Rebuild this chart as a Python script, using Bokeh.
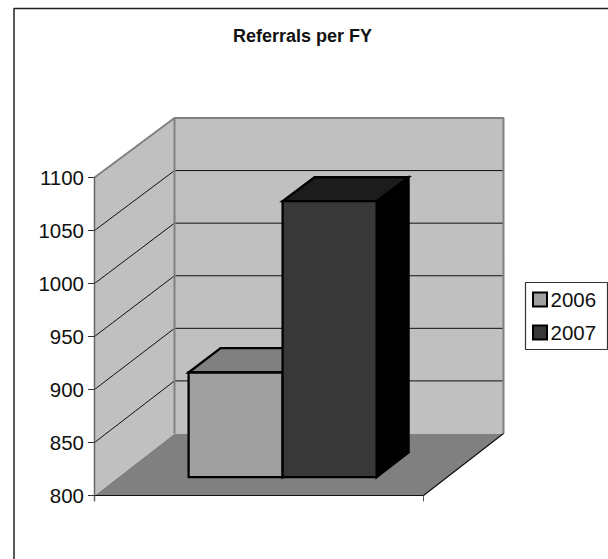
from bokeh.core.properties import value
from bokeh.embed import file_html
from bokeh.models import Range1d
from bokeh.plotting import figure
from bokeh.resources import INLINE

# Chart content
title_text = "Referrals per FY"
years = ["2006", "2007"]
referrals = [899, 1061]
tick_values = [800, 850, 900, 950, 1000, 1050, 1100]

front_colors = ["#a0a0a0", "#383838"]
top_colors = ["#808080", "#1c1c1c"]
side_colors = ["#606060", "#000000"]

WIDTH, HEIGHT = 608, 559

# Oblique projection: x in category widths, y in axis units, z in depth (0 front, 1 back)
FRONT_LEFT_PX, FRONT_RIGHT_PX = 94.0, 423.0
BASE_PX, PX_PER_UNIT = 495.0, 1.06
DEPTH_DX_PX, DEPTH_DY_PX = 80.0, 62.0
DEPTH_SQUEEZE_PX = 2.5  # the back plane is slightly shorter than the front one
CAT_PX = FRONT_RIGHT_PX - FRONT_LEFT_PX
AXIS_MIN, AXIS_MAX = tick_values[0], tick_values[-1]


def from_px(px, py):
    return (px - FRONT_LEFT_PX) / CAT_PX, AXIS_MIN + (BASE_PX - py) / PX_PER_UNIT


def project(x, v, z=0.0):
    lift = DEPTH_DY_PX - DEPTH_SQUEEZE_PX * (v - AXIS_MIN) / (AXIS_MAX - AXIS_MIN)
    return x + z * DEPTH_DX_PX / CAT_PX, v + z * lift / PX_PER_UNIT


def poly(points):
    return [p[0] for p in points], [p[1] for p in points]


def px_poly(points):
    return poly([from_px(*p) for p in points])


x0, y_top = from_px(0, 0)
x1, y_bottom = from_px(WIDTH, HEIGHT)
p = figure(
    width=WIDTH, height=HEIGHT,
    x_range=Range1d(x0, x1), y_range=Range1d(y_bottom, y_top),
    output_backend="svg", toolbar_location=None, min_border=0,
    background_fill_color="white", border_fill_color="white",
)
p.axis.visible = False
p.grid.visible = False
p.outline_line_color = None

GRAY = "#808080"
WALL = "#c0c0c0"

# Outer chart border (left and top edges are the ones on the page)
xs, ys = px_poly([(13.5, 559), (13.5, 8), (608, 8)])
p.line(xs, ys, line_color="#222222", line_width=1.5)

# Floor
xs, ys = poly([project(0, AXIS_MIN), project(1, AXIS_MIN), project(1, AXIS_MIN, 1), project(0, AXIS_MIN, 1)])
p.patch(xs, ys, fill_color=GRAY, line_color=None)

# Left and back walls
xs, ys = poly([project(0, AXIS_MIN), project(0, AXIS_MAX), project(0, AXIS_MAX, 1), project(0, AXIS_MIN, 1)])
p.patch(xs, ys, fill_color=WALL, line_color=None)
xs, ys = poly([project(0, AXIS_MIN, 1), project(0, AXIS_MAX, 1), project(1, AXIS_MAX, 1), project(1, AXIS_MIN, 1)])
p.patch(xs, ys, fill_color=WALL, line_color=None)

# Gridlines running along the left wall and across the back wall
for v in tick_values[1:-1]:
    xs, ys = poly([project(0, v), project(0, v, 1), project(1, v, 1)])
    p.line(xs, ys, line_color="#101010", line_width=1)

# Wall edges
for pts in (
    [project(0, AXIS_MAX), project(0, AXIS_MAX, 1), project(1, AXIS_MAX, 1), project(1, AXIS_MIN, 1)],
    [project(0, AXIS_MIN, 1), project(0, AXIS_MAX, 1)],
):
    xs, ys = poly(pts)
    p.line(xs, ys, line_color=GRAY, line_width=2)

# Axis lines and tick marks
tick_len = 6 / PX_PER_UNIT
xs, ys = poly([project(0, AXIS_MAX), project(0, AXIS_MIN - tick_len)])
p.line(xs, ys, line_color="#666666", line_width=1.5)
xs, ys = poly([project(0, AXIS_MIN), project(1, AXIS_MIN), project(1, AXIS_MIN, 1)])
p.line(xs, ys, line_color="#101010", line_width=1.2)
xs, ys = poly([project(1, AXIS_MIN), project(1, AXIS_MIN - tick_len)])
p.line(xs, ys, line_color="#555555", line_width=1)

label_x, _ = from_px(83.5, 0)
tick_start, _ = from_px(87.5, 0)
for v in tick_values:
    p.line([tick_start, 0], [v, v], line_color="#333333", line_width=1)
p.text(
    x=[label_x] * len(tick_values), y=tick_values, text=[str(v) for v in tick_values],
    text_font=value("Liberation Sans"), text_font_size="20.5px", text_color="#111111",
    text_align="right", text_baseline="middle",
)

# Bars as oblique boxes: gap width of 150 % of a bar
BAR_W = 1 / 3.5
BAR_START = 0.75 / 3.5
Z_FRONT, Z_BACK = 0.295, 0.695
for i, v in enumerate(referrals):
    left, right = BAR_START + i * BAR_W, BAR_START + (i + 1) * BAR_W
    side = [project(right, AXIS_MIN, Z_FRONT), project(right, v, Z_FRONT),
            project(right, v, Z_BACK), project(right, AXIS_MIN, Z_BACK)]
    top = [project(left, v, Z_FRONT), project(left, v, Z_BACK),
           project(right, v, Z_BACK), project(right, v, Z_FRONT)]
    front = [project(left, AXIS_MIN, Z_FRONT), project(left, v, Z_FRONT),
             project(right, v, Z_FRONT), project(right, AXIS_MIN, Z_FRONT)]
    for face, color in ((side, side_colors[i]), (top, top_colors[i]), (front, front_colors[i])):
        xs, ys = poly(face)
        p.patch(xs, ys, fill_color=color, line_color="black", line_width=2.3, line_join="miter")

# Chart title
tx, ty = from_px(302, 35)
p.text(
    x=[tx], y=[ty], text=[title_text],
    text_font=value("Liberation Sans"), text_font_style="bold", text_font_size="18px",
    text_color="#111111", text_align="center", text_baseline="middle",
)

# Legend box, swatches and labels
xs, ys = px_poly([(525, 282), (607, 282), (607, 349), (525, 349)])
p.patch(xs, ys, fill_color="white", line_color="#333333", line_width=1.2)
for i, year in enumerate(years):
    top_px = 292 + i * 33
    xs, ys = px_poly([(532.5, top_px), (546.5, top_px), (546.5, top_px + 14), (532.5, top_px + 14)])
    p.patch(xs, ys, fill_color=front_colors[i], line_color="black", line_width=2, line_join="miter")
    lx, ly = from_px(550, top_px + 7)
    p.text(
        x=[lx], y=[ly], text=[year],
        text_font=value("Liberation Sans"), text_font_size="20.5px", text_color="#111111",
        text_align="left", text_baseline="middle",
    )

open("out.html", "w").write(file_html(p, INLINE))
